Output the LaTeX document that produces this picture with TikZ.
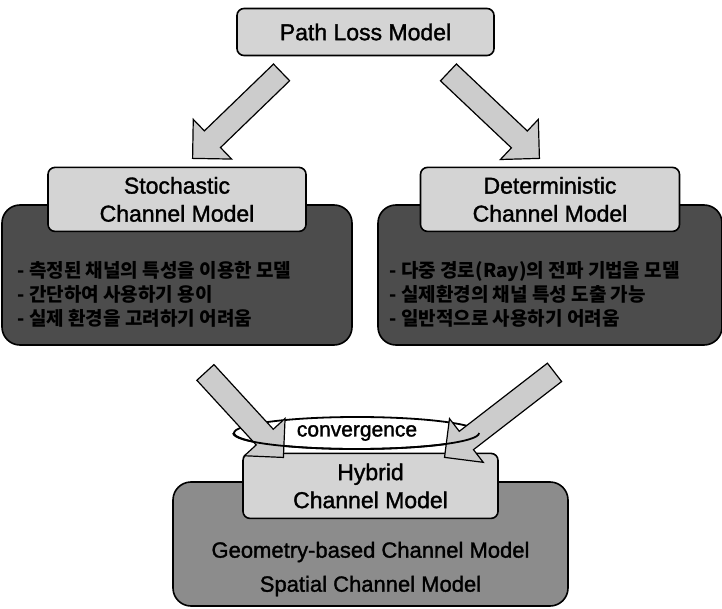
\documentclass[tikz,border=0pt]{standalone}
\usepackage{fontspec}
\setmainfont{Liberation Sans}[FakeBold=1.4]
\newfontfamily\kr{Noto Sans CJK KR}
\usetikzlibrary{positioning,shapes.arrows,shapes.geometric,calc}

\tikzset{
  title/.style={draw=black, line width=1.6pt, rounded corners=7pt, fill=black!17,
    align=center, font=\fontsize{23}{28}\selectfont},
  body/.style={draw=black, line width=1.6pt, rounded corners=18pt, fill=black!70},
  bodytext/.style={anchor=west, align=left, font=\kr\bfseries\fontsize{19}{24}\selectfont},
  bigarrow/.style={single arrow, draw=black, line width=1.2pt, fill=black!20,
    inner xsep=0pt, inner ysep=11pt, single arrow head extend=16pt,
    single arrow tip angle=90, anchor=tail},
}
% block arrow from coordinate #1 to coordinate #2
\newcommand\blockarrow[2]{%
  \path let \p1=($(#2)-(#1)$), \n1={atan2(\y1,\x1)}, \n2={veclen(\x1,\y1)} in
    node[bigarrow, rotate=\n1, minimum height=\n2] at (#1) {};}

\begin{document}
\begin{tikzpicture}[x=1pt,y=-1pt]
  \useasboundingbox (0,0) rectangle (722,609);

  % top
  \node (plm) [title, minimum width=257pt, minimum height=47pt] at (365.5,32) {Path Loss Model};

  % stochastic
  \node (stochbody) [body, minimum width=350pt, minimum height=140pt] at (177,275) {};
  \node (stoch) [title, minimum width=258pt, minimum height=64pt, above=-28pt of stochbody.north]
    {Stochastic\\Channel Model};
  \node (stochtext) [bodytext] at (14,294)
    {- 측정된 채널의 특성을 이용한 모델\\- 간단하여 사용하기 용이\\- 실제 환경을 고려하기 어려움};

  % deterministic
  \node (detbody) [body, minimum width=344pt, minimum height=140pt] at (550,275) {};
  \node (det) [title, minimum width=259pt, minimum height=64pt, above=-28pt of detbody.north]
    {Deterministic\\Channel Model};
  \node (dettext) [bodytext] at (386,294)
    {- 다중 경로(Ray)의 전파 기법을 모델\\- 실제환경의 채널 특성 도출 가능\\- 일반적으로 사용하기 어려움};

  % hybrid
  \node (hybridbody) [body, fill=black!45, minimum width=395pt, minimum height=124pt] at (370.5,544) {};
  \node (hybrid) [title, minimum width=255pt, minimum height=65pt, above=-38pt of hybridbody.north]
    {Hybrid\\Channel Model};
  \node (hybridtext) [align=center, font=\fontsize{22}{34}\selectfont] at (370.5,569)
    {Geometry-based Channel Model\\Spatial Channel Model};

  % convergence ring
  \node (conv) [ellipse, draw=black, line width=1.8pt, fill=white, minimum width=246pt,
    minimum height=32pt, inner sep=0pt, font=\fontsize{21}{24}\selectfont] at (357,433) {convergence};

  % arrows
  \coordinate (a1) at (282,72);  \coordinate (b1) at (193,158);
  \coordinate (a2) at (448,72);  \coordinate (b2) at (539,158);
  \coordinate (a3) at (205,372); \coordinate (b3) at (283,457);
  \coordinate (a4) at (555,372); \coordinate (b4) at (445,457);
  \blockarrow{a1}{b1}
  \blockarrow{a2}{b2}
  \blockarrow{a3}{b3}
  \blockarrow{a4}{b4}
  \draw[line width=1.8pt] (conv.west) arc[start angle=180, end angle=360, x radius=123pt, y radius=16pt];
\end{tikzpicture}
\end{document}
